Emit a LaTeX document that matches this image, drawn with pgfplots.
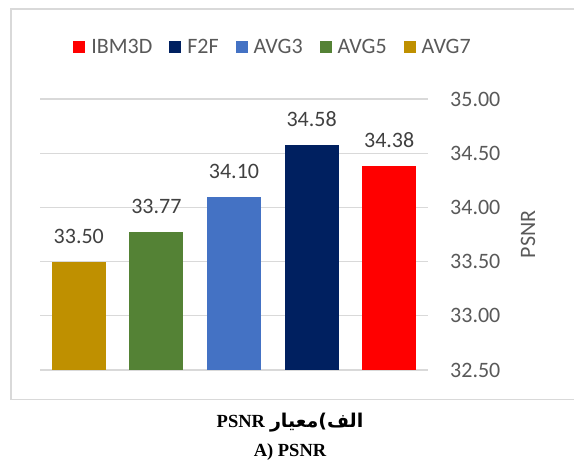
\documentclass[border=0pt]{standalone}
\usepackage{pgfplots}
\pgfplotsset{compat=1.18}
\usepackage{fontspec}
\setmainfont{Carlito}
\newfontfamily\seriffont{Liberation Serif}
\newfontfamily\arabicfont[Script=Arabic]{DejaVu Sans}
\TeXXeTstate=1
\definecolor{cIBM}{HTML}{FF0000}
\definecolor{cF2F}{HTML}{002060}
\definecolor{cAVG3}{HTML}{4472C4}
\definecolor{cAVG5}{HTML}{548235}
\definecolor{cAVG7}{HTML}{BF9000}
\definecolor{txtgray}{HTML}{595959}
\definecolor{lblgray}{HTML}{404040}
\definecolor{gridgray}{HTML}{D9D9D9}
\begin{document}
\begin{tikzpicture}[x=1bp,y=1bp]
\draw[gridgray, line width=1.5bp] (574,456) -- (11,456) -- (11,65.5) -- (574,65.5);
\begin{axis}[
  at={(40bp,95bp)}, anchor=south west,
  scale only axis, width=388bp, height=271bp,
  ybar, bar width=54bp, bar shift=0pt,
  xmin=-0.5, xmax=4.5, ymin=32.5, ymax=35,
  ytick={32.5,33,33.5,34,34.5,35},
  xtick=\empty,
  axis line style={draw=none},
  major tick length=0pt,
  ymajorgrids, major grid style={gridgray, line width=1.3bp},
  yticklabel pos=right,
  /pgf/number format/assume math mode=true,
  yticklabel style={/pgf/number format/.cd, fixed, fixed zerofill, precision=2, /tikz/.cd,
    font=\fontsize{22bp}{24bp}\selectfont, text=txtgray, anchor=west, inner sep=0pt, xshift=22bp},
  ylabel={PSNR},
  every axis y label/.style={at={(axis description cs:1.258,0.5)}, anchor=center, rotate=90,
    font=\fontsize{22bp}{24bp}\selectfont, text=txtgray},
  nodes near coords,
  nodes near coords style={/pgf/number format/.cd, fixed, fixed zerofill, precision=2, /tikz/.cd,
    font=\fontsize{22bp}{24bp}\selectfont, text=lblgray, anchor=south, inner sep=0pt, yshift=18bp},
  legend columns=5,
  legend style={at={(axis description cs:0.598,1.192)}, anchor=center, draw=none, fill=none,
    font=\fontsize{22bp}{24bp}\selectfont, text=txtgray,
    nodes={inner sep=0pt},
    /tikz/every odd column/.append style={column sep=6bp},
    /tikz/every even column/.append style={column sep=17bp}},
  clip=false,
]
\addplot[fill=cIBM, draw=none, legend image code/.code={\fill[cIBM] (0bp,-6bp) rectangle (12bp,6bp);}] coordinates {(4,34.38)};
\addplot[fill=cF2F, draw=none, legend image code/.code={\fill[cF2F] (0bp,-6bp) rectangle (12bp,6bp);}] coordinates {(3,34.58)};
\addplot[fill=cAVG3, draw=none, legend image code/.code={\fill[cAVG3] (0bp,-6bp) rectangle (12bp,6bp);}] coordinates {(2,34.10)};
\addplot[fill=cAVG5, draw=none, legend image code/.code={\fill[cAVG5] (0bp,-6bp) rectangle (12bp,6bp);}] coordinates {(1,33.77)};
\addplot[fill=cAVG7, draw=none, legend image code/.code={\fill[cAVG7] (0bp,-6bp) rectangle (12bp,6bp);}] coordinates {(0,33.50)};
\legend{IBM3D,F2F,AVG3,AVG5,AVG7}
\end{axis}
\node[anchor=base, inner sep=0pt] at (290,37) {\beginR{\arabicfont\bfseries\fontsize{19bp}{22bp}\selectfont الف)معیار}\hspace{5bp}{\seriffont\bfseries\fontsize{18.5bp}{20bp}\selectfont PSNR}\endR};
\node[anchor=base, inner sep=0pt] at (290,8) {\seriffont\bfseries\fontsize{18.5bp}{20bp}\selectfont A) PSNR};
\pgfresetboundingbox
\path[use as bounding box] (0,0) rectangle (575,465);
\end{tikzpicture}
\end{document}
